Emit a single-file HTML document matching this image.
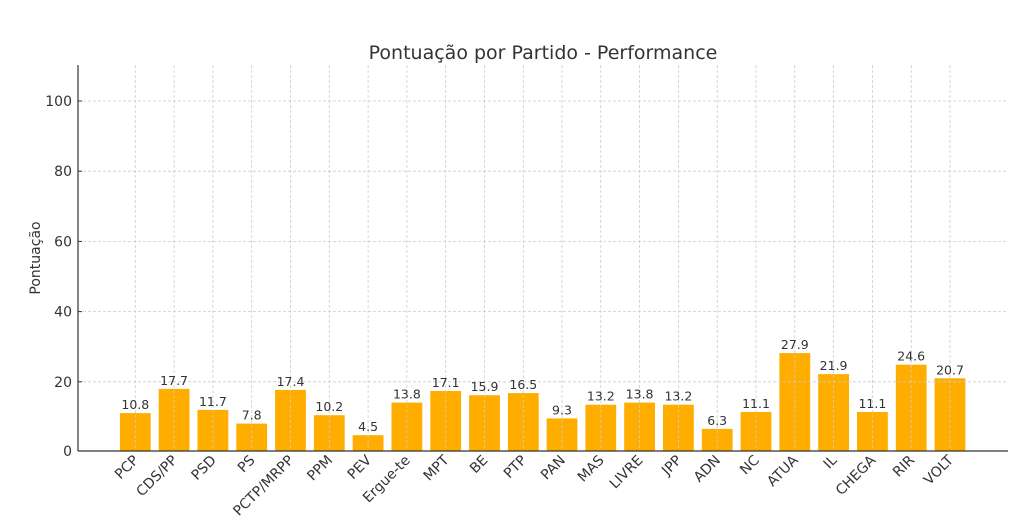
<!DOCTYPE html>
<html><head><meta charset="utf-8"><style>body{margin:0;background:#fff}svg{display:block}text{font-family:"DejaVu Sans","Liberation Sans",sans-serif;fill:#333}</style></head><body>
<svg width="1023" height="532" viewBox="0 0 1023 532" xmlns="http://www.w3.org/2000/svg">
<rect width="1023" height="532" fill="#fff"/>
<text x="543" y="59" text-anchor="middle" font-size="19">Pontuação por Partido - Performance</text>
<text transform="translate(40,258) rotate(-90)" text-anchor="middle" font-size="14">Pontuação</text>
<g fill="#ffae00">
<rect x="119.9" y="413.1" width="30.8" height="37.9"/>
<rect x="158.7" y="388.9" width="30.8" height="62.1"/>
<rect x="197.5" y="409.9" width="30.8" height="41.1"/>
<rect x="236.3" y="423.6" width="30.8" height="27.4"/>
<rect x="275.1" y="389.9" width="30.8" height="61.1"/>
<rect x="313.9" y="415.2" width="30.8" height="35.8"/>
<rect x="352.7" y="435.2" width="30.8" height="15.8"/>
<rect x="391.5" y="402.6" width="30.8" height="48.4"/>
<rect x="430.3" y="391.0" width="30.8" height="60.0"/>
<rect x="469.1" y="395.2" width="30.8" height="55.8"/>
<rect x="507.9" y="393.1" width="30.8" height="57.9"/>
<rect x="546.6" y="418.4" width="30.8" height="32.6"/>
<rect x="585.4" y="404.7" width="30.8" height="46.3"/>
<rect x="624.2" y="402.6" width="30.8" height="48.4"/>
<rect x="663.0" y="404.7" width="30.8" height="46.3"/>
<rect x="701.8" y="428.9" width="30.8" height="22.1"/>
<rect x="740.6" y="412.0" width="30.8" height="39.0"/>
<rect x="779.4" y="353.1" width="30.8" height="97.9"/>
<rect x="818.2" y="374.1" width="30.8" height="76.9"/>
<rect x="857.0" y="412.0" width="30.8" height="39.0"/>
<rect x="895.8" y="364.7" width="30.8" height="86.3"/>
<rect x="934.6" y="378.3" width="30.8" height="72.7"/>
</g>
<g stroke="#ccc" stroke-width="0.8" stroke-dasharray="3,2">
<line x1="135.3" y1="65" x2="135.3" y2="451"/><line x1="174.1" y1="65" x2="174.1" y2="451"/><line x1="212.9" y1="65" x2="212.9" y2="451"/><line x1="251.7" y1="65" x2="251.7" y2="451"/><line x1="290.5" y1="65" x2="290.5" y2="451"/><line x1="329.3" y1="65" x2="329.3" y2="451"/><line x1="368.1" y1="65" x2="368.1" y2="451"/><line x1="406.9" y1="65" x2="406.9" y2="451"/><line x1="445.7" y1="65" x2="445.7" y2="451"/><line x1="484.5" y1="65" x2="484.5" y2="451"/><line x1="523.3" y1="65" x2="523.3" y2="451"/><line x1="562.0" y1="65" x2="562.0" y2="451"/><line x1="600.8" y1="65" x2="600.8" y2="451"/><line x1="639.6" y1="65" x2="639.6" y2="451"/><line x1="678.4" y1="65" x2="678.4" y2="451"/><line x1="717.2" y1="65" x2="717.2" y2="451"/><line x1="756.0" y1="65" x2="756.0" y2="451"/><line x1="794.8" y1="65" x2="794.8" y2="451"/><line x1="833.6" y1="65" x2="833.6" y2="451"/><line x1="872.4" y1="65" x2="872.4" y2="451"/><line x1="911.2" y1="65" x2="911.2" y2="451"/><line x1="950.0" y1="65" x2="950.0" y2="451"/>
<line x1="78" y1="381.8" x2="1008" y2="381.8"/><line x1="78" y1="311.6" x2="1008" y2="311.6"/><line x1="78" y1="241.4" x2="1008" y2="241.4"/><line x1="78" y1="171.2" x2="1008" y2="171.2"/><line x1="78" y1="101" x2="1008" y2="101"/>
</g>
<g font-size="12.5" text-anchor="middle">
<text x="135.3" y="409.1">10.8</text><text x="174.1" y="384.9">17.7</text><text x="212.9" y="405.9">11.7</text><text x="251.7" y="419.6">7.8</text><text x="290.5" y="385.9">17.4</text><text x="329.3" y="411.2">10.2</text><text x="368.1" y="431.2">4.5</text><text x="406.9" y="398.6">13.8</text><text x="445.7" y="387.0">17.1</text><text x="484.5" y="391.2">15.9</text><text x="523.3" y="389.1">16.5</text><text x="562.0" y="414.4">9.3</text><text x="600.8" y="400.7">13.2</text><text x="639.6" y="398.6">13.8</text><text x="678.4" y="400.7">13.2</text><text x="717.2" y="424.9">6.3</text><text x="756.0" y="408.0">11.1</text><text x="794.8" y="349.1">27.9</text><text x="833.6" y="370.1">21.9</text><text x="872.4" y="408.0">11.1</text><text x="911.2" y="360.7">24.6</text><text x="950.0" y="374.3">20.7</text>
</g>
<g font-size="14" text-anchor="end">
<text transform="translate(139.3,461) rotate(-45)">PCP</text><text transform="translate(178.1,461) rotate(-45)">CDS/PP</text><text transform="translate(216.9,461) rotate(-45)">PSD</text><text transform="translate(255.7,461) rotate(-45)">PS</text><text transform="translate(294.5,461) rotate(-45)">PCTP/MRPP</text><text transform="translate(333.3,461) rotate(-45)">PPM</text><text transform="translate(372.1,461) rotate(-45)">PEV</text><text transform="translate(410.9,461) rotate(-45)">Ergue-te</text><text transform="translate(449.7,461) rotate(-45)">MPT</text><text transform="translate(488.5,461) rotate(-45)">BE</text><text transform="translate(527.3,461) rotate(-45)">PTP</text><text transform="translate(566.0,461) rotate(-45)">PAN</text><text transform="translate(604.8,461) rotate(-45)">MAS</text><text transform="translate(643.6,461) rotate(-45)">LIVRE</text><text transform="translate(682.4,461) rotate(-45)">JPP</text><text transform="translate(721.2,461) rotate(-45)">ADN</text><text transform="translate(760.0,461) rotate(-45)">NC</text><text transform="translate(798.8,461) rotate(-45)">ATUA</text><text transform="translate(837.6,461) rotate(-45)">IL</text><text transform="translate(876.4,461) rotate(-45)">CHEGA</text><text transform="translate(915.2,461) rotate(-45)">RIR</text><text transform="translate(954.0,461) rotate(-45)">VOLT</text>
</g>
<g font-size="14" text-anchor="end">
<text x="72" y="456">0</text><text x="72" y="386.8">20</text><text x="72" y="316.6">40</text><text x="72" y="246.4">60</text><text x="72" y="176.2">80</text><text x="72" y="106">100</text>
</g>
<g stroke="#333" stroke-width="1">
<line x1="78" y1="381.8" x2="82" y2="381.8"/><line x1="78" y1="311.6" x2="82" y2="311.6"/><line x1="78" y1="241.4" x2="82" y2="241.4"/><line x1="78" y1="171.2" x2="82" y2="171.2"/><line x1="78" y1="101" x2="82" y2="101"/>
</g>
<line x1="78" y1="65" x2="78" y2="451" stroke="#333" stroke-width="1.2"/>
<line x1="78" y1="451" x2="1008" y2="451" stroke="#333" stroke-width="1.2"/>
</svg>
</body></html>
